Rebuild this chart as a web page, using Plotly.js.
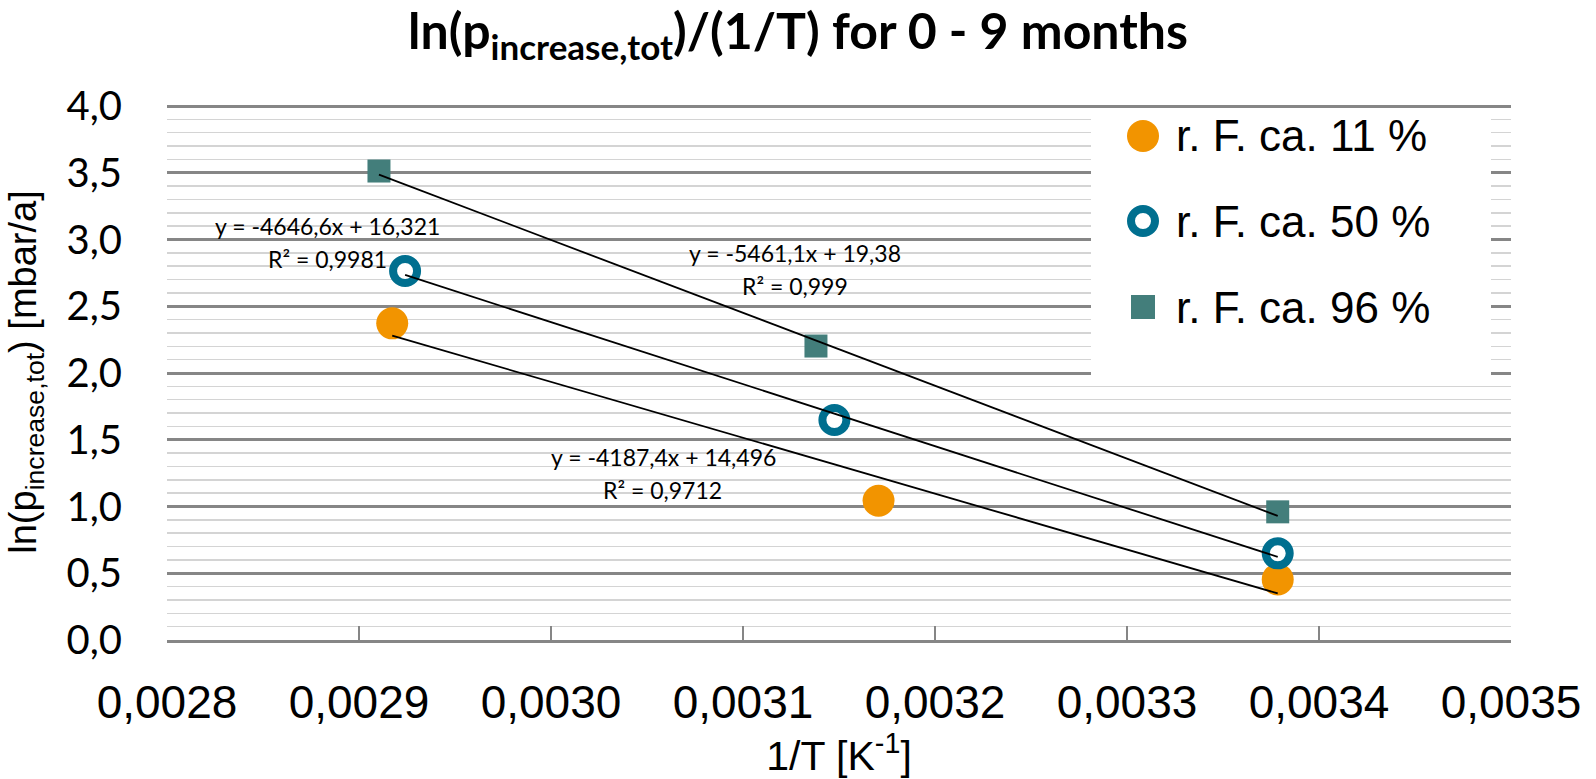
<!DOCTYPE html>
<html>
<head>
<meta charset="utf-8">
<script src="https://cdn.plot.ly/plotly-3.0.1.min.js"></script>
<style>
  html, body { margin: 0; padding: 0; background: #ffffff; }
  #chart { width: 1596px; height: 779px; }
</style>
</head>
<body>
<div id="chart"></div>
<script>
// ---- data ----
const seriesNames = ["r. F. ca. 11 %", "r. F. ca. 50 %", "r. F. ca. 96 %"];
const x11 = [0.0029173, 0.0031706, 0.0033785];
const y11 = [2.372, 1.043, 0.454];
const x50 = [0.0029240, 0.0031476, 0.0033785];
const y50 = [2.764, 1.648, 0.649];
const x96 = [0.0029104, 0.0031380, 0.0033785];
const y96 = [3.513, 2.202, 0.960];
// trendline equations as printed on the chart
const slopes = [-4187.4, -4646.6, -5461.1];
const intercepts = [14.496, 16.321, 19.38];
const rSquared = [0.9712, 0.9981, 0.999];

// ---- styling / layout ----
const ORANGE = "#F29400", BLUE = "#006F8F", TEAL = "#437E7B";
const W = 1596, H = 779;
const L = 167, R = 1511, T = 104, B = 640;
const YMAX = 4.015;
const px = v => (v - L) / (R - L);
const py = v => (B - v) / (B - T);
const dec = v => String(v).replace(".", ",");

const xs = [x11, x50, x96], ys = [y11, y50, y96];
const markerStyles = [
  {symbol: "circle", size: 32, color: ORANGE, line: {width: 0}},
  {symbol: "circle", size: 24, color: "#ffffff", line: {width: 8, color: BLUE}},
  {symbol: "square", size: 23, color: TEAL, line: {width: 0}}
];

const traces = [];
for (let i = 0; i < 3; i++) {
  traces.push({
    type: "scatter", mode: "markers", name: seriesNames[i],
    x: xs[i], y: ys[i], marker: markerStyles[i], showlegend: false,
    cliponaxis: false
  });
}
for (let i = 0; i < 3; i++) {
  const xmin = Math.min(...xs[i]), xmax = Math.max(...xs[i]);
  traces.push({
    type: "scatter", mode: "lines", name: "Trendline " + seriesNames[i],
    x: [xmin, xmax],
    y: [slopes[i] * xmin + intercepts[i], slopes[i] * xmax + intercepts[i]],
    line: {color: "#000000", width: 1.8}, showlegend: false, hoverinfo: "skip"
  });
}

// trendline label positions (pixels)
const labelPos = [[663, 457, 662, 490], [327.5, 226, 327, 259], [795, 253, 795, 286]];
const annotations = [];
const lblFont = {family: "Lato, 'Open Sans', sans-serif", size: 23, color: "#000000"};
for (let i = 0; i < 3; i++) {
  const p = labelPos[i];
  annotations.push({
    xref: "paper", yref: "paper", x: px(p[0]), y: py(p[1]),
    xanchor: "center", yanchor: "middle", showarrow: false,
    text: "y = " + dec(slopes[i]) + "x + " + dec(intercepts[i]), font: lblFont
  });
  annotations.push({
    xref: "paper", yref: "paper", x: px(p[2]), y: py(p[3]),
    xanchor: "center", yanchor: "middle", showarrow: false,
    text: "R\u00B2 = " + dec(rSquared[i]), font: lblFont
  });
}

// custom legend (large markers)
const legRows = [136, 221, 307];
const legMarkerX = 1143, legTextX = 1174;
const shapes = [{
  type: "rect", xref: "paper", yref: "paper", layer: "above",
  x0: px(1091), x1: px(1491), y0: py(380), y1: py(108),
  fillcolor: "#ffffff", line: {width: 0}
}];
const legendShapes = [
  {type: "circle", r: 16, fill: ORANGE, lw: 0, lc: ORANGE},
  {type: "circle", r: 12, fill: "#ffffff", lw: 8, lc: BLUE},
  {type: "rect", r: 12, fill: TEAL, lw: 0, lc: TEAL}
];
for (let i = 0; i < 3; i++) {
  const s = legendShapes[i];
  shapes.push({
    type: s.type, layer: "above",
    xref: "paper", yref: "paper", xsizemode: "pixel", ysizemode: "pixel",
    xanchor: px(legMarkerX), yanchor: py(legRows[i]),
    x0: -s.r, x1: s.r, y0: -s.r, y1: s.r,
    fillcolor: s.fill, line: {width: s.lw, color: s.lc}
  });
  annotations.push({
    xref: "paper", yref: "paper", x: px(legTextX), y: py(legRows[i]),
    xanchor: "left", yanchor: "middle", showarrow: false,
    text: seriesNames[i],
    font: {family: "'Liberation Sans', Arial, sans-serif", size: 44, color: "#000000"}
  });
}

const layout = {
  width: W, height: H,
  paper_bgcolor: "#ffffff", plot_bgcolor: "#ffffff",
  separators: ", ",
  margin: {l: L, r: W - R, t: T, b: H - B, pad: 0},
  showlegend: false,
  title: {
    text: "ln(p<sub>increase,tot</sub>)/(1/T) for 0 - 9 months",
    font: {family: "Lato, 'Open Sans', sans-serif", size: 50, weight: 700, color: "#000000"},
    x: 0.5, xanchor: "center", xref: "container",
    y: 0.982, yanchor: "top", yref: "container"
  },
  xaxis: {
    range: [0.0028, 0.0035], dtick: 0.0001, tick0: 0.0028, tickformat: ".4f",
    showgrid: false, zeroline: false,
    showline: true, linecolor: "#868686", linewidth: 3,
    ticks: "inside", ticklen: 14, tickwidth: 2, tickcolor: "#868686",
    tickfont: {family: "'Liberation Sans', Arial, sans-serif", size: 46, color: "#000000"},
    ticklabelstandoff: 20,
    title: {
      text: "1/T [K<sup>-1</sup>]", standoff: 8,
      font: {family: "'Liberation Sans', Arial, sans-serif", size: 41, color: "#000000"}
    },
    automargin: false, fixedrange: true
  },
  yaxis: {
    range: [0, YMAX], tickvals: [0, 0.5, 1, 1.5, 2, 2.5, 3, 3.5, 4], tickformat: ".1f",
    showgrid: true, gridcolor: "#868686", gridwidth: 3,
    minor: {dtick: 0.1, tick0: 0, showgrid: true, gridcolor: "#d4d4d4", gridwidth: 1.5},
    zeroline: false, showline: false, ticks: "",
    tickfont: {family: "Lato, 'Open Sans', sans-serif", size: 40, color: "#000000"},
    ticklabelstandoff: 44,
    title: {
      text: "ln(p<sub>increase,tot</sub>) [mbar/a]", standoff: 18,
      font: {family: "'Liberation Sans', Arial, sans-serif", size: 38, color: "#000000"}
    },
    automargin: false, fixedrange: true
  },
  shapes: shapes,
  annotations: annotations
};

Plotly.newPlot("chart", traces, layout, {displayModeBar: false, staticPlot: true});
</script>
</body>
</html>
